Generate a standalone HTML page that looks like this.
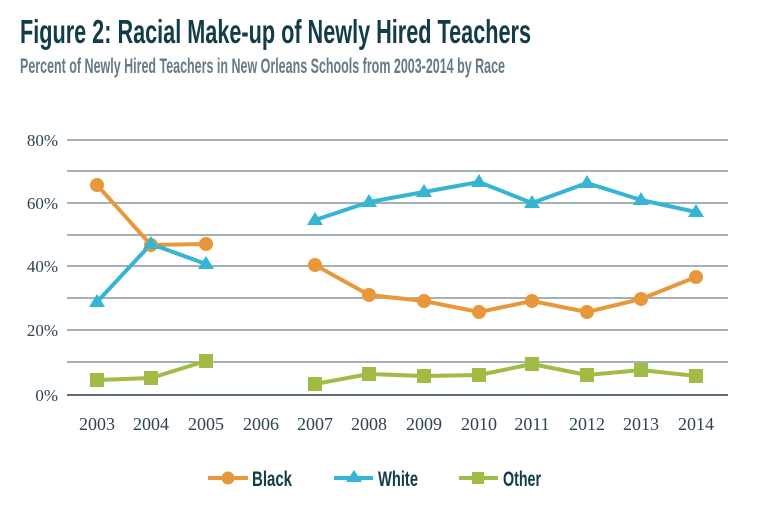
<!DOCTYPE html>
<html><head><meta charset="utf-8"><style>
html,body{margin:0;padding:0;background:#fff;}
body{width:757px;height:511px;overflow:hidden;position:relative;}
</style></head><body>
<svg width="757" height="511" style="position:absolute;left:0;top:0">
<text x="20" y="43" font-family="Liberation Sans,sans-serif" font-weight="bold" font-size="33" fill="#123c47" textLength="511" lengthAdjust="spacingAndGlyphs">Figure 2: Racial Make-up of Newly Hired Teachers</text>
<text x="20" y="73" font-family="Liberation Sans,sans-serif" font-weight="bold" font-size="21" fill="#687a85" textLength="485" lengthAdjust="spacingAndGlyphs">Percent of Newly Hired Teachers in New Orleans Schools from 2003-2014 by Race</text>
<g stroke="#8797a0" stroke-width="1.6">
<line x1="67" x2="728" y1="140" y2="140"/><line x1="67" x2="728" y1="171" y2="171"/>
<line x1="67" x2="728" y1="203" y2="203"/><line x1="67" x2="728" y1="235" y2="235"/>
<line x1="67" x2="728" y1="266" y2="266"/><line x1="67" x2="728" y1="298" y2="298"/>
<line x1="67" x2="728" y1="330" y2="330"/><line x1="67" x2="728" y1="362" y2="362"/>
<line x1="67" x2="728" y1="395" y2="395" stroke="#5a6d78" stroke-width="2"/>
</g>
<g font-family="Liberation Serif,serif" font-size="17" fill="#2d4451" text-anchor="end">
<text x="58" y="146">80%</text><text x="58" y="209">60%</text><text x="58" y="272">40%</text><text x="58" y="336">20%</text><text x="58" y="401">0%</text>
</g>
<g font-family="Liberation Serif,serif" font-size="18" fill="#2d4451" text-anchor="middle">
<text x="97" y="430">2003</text><text x="151" y="430">2004</text><text x="206" y="430">2005</text><text x="261" y="430">2006</text>
<text x="315" y="430">2007</text><text x="369" y="430">2008</text><text x="424" y="430">2009</text><text x="479" y="430">2010</text>
<text x="532" y="430">2011</text><text x="587" y="430">2012</text><text x="641" y="430">2013</text><text x="696" y="430">2014</text>
</g>
<g fill="none" stroke-width="4" stroke-linejoin="round">
<polyline stroke="#e8983a" points="97,185 151,245 206,244"/>
<polyline stroke="#e8983a" points="315,265 369,295 424,301 479,312 532,301 587,312 641,299 696,277"/>
<polyline stroke="#35b5d3" points="97,302 151,244 206,264"/>
<polyline stroke="#35b5d3" points="315,220 369,202 424,192 479,182 532,203 587,183 641,200 696,212"/>
<polyline stroke="#a0bc45" points="97,380 151,378 206,361"/>
<polyline stroke="#a0bc45" points="315,384 369,374 424,376 479,375 532,364 587,375 641,370 696,376"/>
</g>
<g fill="#e8983a">
<circle cx="97" cy="185" r="7"/><circle cx="151" cy="245" r="7"/><circle cx="206" cy="244" r="7"/>
<circle cx="315" cy="265" r="7"/><circle cx="369" cy="295" r="7"/><circle cx="424" cy="301" r="7"/><circle cx="479" cy="312" r="7"/>
<circle cx="532" cy="301" r="7"/><circle cx="587" cy="312" r="7"/><circle cx="641" cy="299" r="7"/><circle cx="696" cy="277" r="7"/>
</g>
<g fill="#35b5d3">
<path d="M97,294 l8,13 h-16z"/><path d="M151,236 l8,13 h-16z"/><path d="M206,256 l8,13 h-16z"/>
<path d="M315,212 l8,13 h-16z"/><path d="M369,194 l8,13 h-16z"/><path d="M424,184 l8,13 h-16z"/><path d="M479,174 l8,13 h-16z"/>
<path d="M532,195 l8,13 h-16z"/><path d="M587,175 l8,13 h-16z"/><path d="M641,192 l8,13 h-16z"/><path d="M696,204 l8,13 h-16z"/>
</g>
<g fill="#a0bc45">
<rect x="90" y="373" width="14" height="14"/><rect x="144" y="371" width="14" height="14"/><rect x="199" y="354" width="14" height="14"/>
<rect x="308" y="377" width="14" height="14"/><rect x="362" y="367" width="14" height="14"/><rect x="417" y="369" width="14" height="14"/><rect x="472" y="368" width="14" height="14"/>
<rect x="525" y="357" width="14" height="14"/><rect x="580" y="368" width="14" height="14"/><rect x="634" y="363" width="14" height="14"/><rect x="689" y="369" width="14" height="14"/>
</g>
<g stroke-width="4">
<line x1="208" x2="248" y1="478" y2="478" stroke="#e8983a"/>
<line x1="334" x2="373" y1="478" y2="478" stroke="#35b5d3"/>
<line x1="459" x2="498" y1="478" y2="478" stroke="#a0bc45"/>
</g>
<circle cx="228" cy="478" r="6.5" fill="#e8983a"/>
<path d="M354,470 l8,12 h-16z" fill="#35b5d3"/>
<rect x="472" y="472" width="12" height="12" fill="#a0bc45"/>
<g font-family="Liberation Sans,sans-serif" font-weight="bold" font-size="21" fill="#123c47">
<text x="252" y="486" textLength="40" lengthAdjust="spacingAndGlyphs">Black</text>
<text x="378" y="486" textLength="40" lengthAdjust="spacingAndGlyphs">White</text>
<text x="503" y="486" textLength="38" lengthAdjust="spacingAndGlyphs">Other</text>
</g>
</svg>
</body></html>
